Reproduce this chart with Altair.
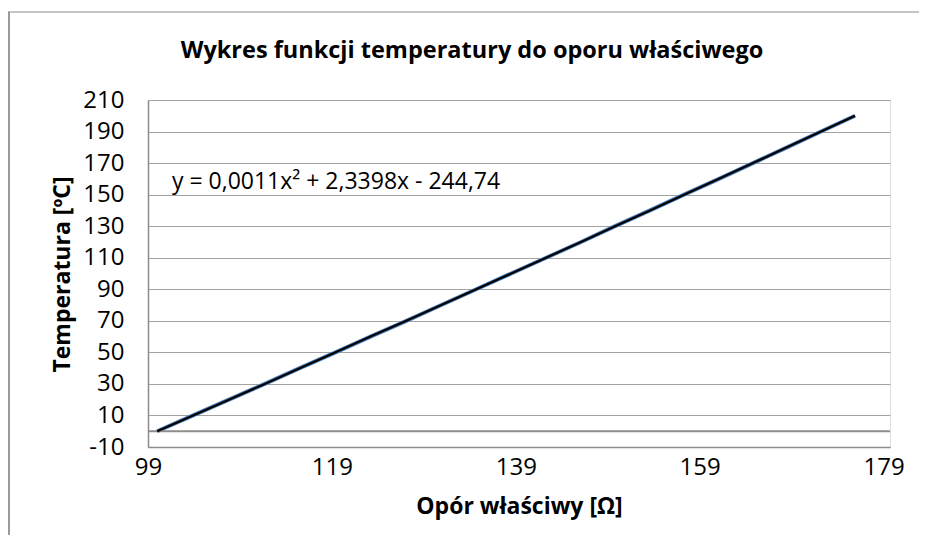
import altair as alt
import pandas as pd

# Data (resistance in ohm vs temperature in degC)
resistance = [100.0, 103.9, 107.8, 111.7, 115.5, 119.4, 123.2, 127.1, 130.9, 134.7,
              138.5, 142.3, 146.1, 149.8, 153.6, 157.3, 161.1, 164.8, 168.5, 172.2, 175.9]
temperature = [0, 10, 20, 30, 40, 50, 60, 70, 80, 90,
               100, 110, 120, 130, 140, 150, 160, 170, 180, 190, 200]
x_ticks = [99, 119, 139, 159, 179]
y_ticks = [-10, 10, 30, 50, 70, 90, 110, 130, 150, 170, 190, 210]
equation = "y = 0,0011x² + 2,3398x - 244,74"
eq_pos = (101.6, 158)
title_text = "Wykres funkcji temperatury do oporu właściwego"

df = pd.DataFrame({"R": resistance, "T": temperature})
eq_df = pd.DataFrame({"R": [eq_pos[0]], "T": [eq_pos[1]], "label": [equation]})
zero_df = pd.DataFrame({"T": [0]})
one = pd.DataFrame({"a": [0]})
title_df = pd.DataFrame({"label": [title_text]})

FONT = "Open Sans"

xscale = alt.Scale(domain=[99, 179.7], nice=False, zero=False)
yscale = alt.Scale(domain=[-10, 210], nice=False, zero=False)

x_axis = alt.Axis(values=x_ticks, title="Opór właściwy [Ω]", grid=False,
                  ticks=False, labelPadding=8, labelFontSize=24,
                  labelFont=FONT, labelColor="#000000",
                  labelExpr="'' + datum.value",
                  domainColor="#8c8c8c", domainWidth=1.5,
                  titleFont=FONT, titleFontSize=23, titleFontWeight="bold",
                  titleColor="#000000", titleX=371, titleY=59,
                  titleBaseline="middle", titleAlign="center",
                  labelFlush=False, labelOverlap=False)
y_axis = alt.Axis(values=y_ticks, title="Temperatura [ºC]", grid=True,
                  gridColor="#a3a3a3", gridWidth=1.2,
                  ticks=False, labelPadding=24, labelFontSize=24,
                  labelFont=FONT, labelColor="#000000",
                  labelExpr="'' + datum.value",
                  domainColor="#8c8c8c", domainWidth=1.5,
                  titleFont=FONT, titleFontSize=23, titleFontWeight="bold",
                  titleColor="#000000", titleX=-86, titleY=174,
                  titleAngle=-90, titleBaseline="middle", titleAlign="center",
                  labelFlush=False, labelOverlap=False)

x_enc = alt.X("R:Q", scale=xscale, axis=x_axis)
y_enc = alt.Y("T:Q", scale=yscale, axis=y_axis)

base = alt.Chart(df)

series = base.mark_line(color="#4a7ebb", strokeWidth=4).encode(x=x_enc, y=y_enc)

zero_rule = alt.Chart(zero_df).mark_rule(color="#8c8c8c", strokeWidth=2).encode(y=y_enc)

trend = base.mark_line(color="#000000", strokeWidth=2.2).encode(x=x_enc, y=y_enc)

eq_text = alt.Chart(eq_df).mark_text(align="left", baseline="middle", font=FONT,
                                     fontSize=23, color="#000000").encode(
    x=x_enc, y=y_enc, text="label:N")

title_mark = alt.Chart(title_df).mark_text(align="center", baseline="alphabetic",
                                           font=FONT, fontSize=23.5, fontWeight="bold",
                                           color="#000000").encode(
    x=alt.value(324), y=alt.value(-42), text="label:N")

border_left = alt.Chart(one).mark_rule(color="#9a9a9a", strokeWidth=2).encode(
    x=alt.value(-139), y=alt.value(-88), y2=alt.value(480))
border_top = alt.Chart(one).mark_rule(color="#8c8c8c", strokeWidth=1).encode(
    x=alt.value(-140), x2=alt.value(800), y=alt.value(-88))

chart = alt.layer(series, zero_rule, trend, eq_text, title_mark,
                  border_left, border_top).properties(
    width=742, height=347,
    autosize=alt.AutoSizeParams(type="none"),
    padding={"left": 140, "top": 92, "right": 29, "bottom": 88},
).configure_view(stroke=None).configure(background="#ffffff")

chart.save("out.html", embed_options={"renderer": "svg", "actions": False})
